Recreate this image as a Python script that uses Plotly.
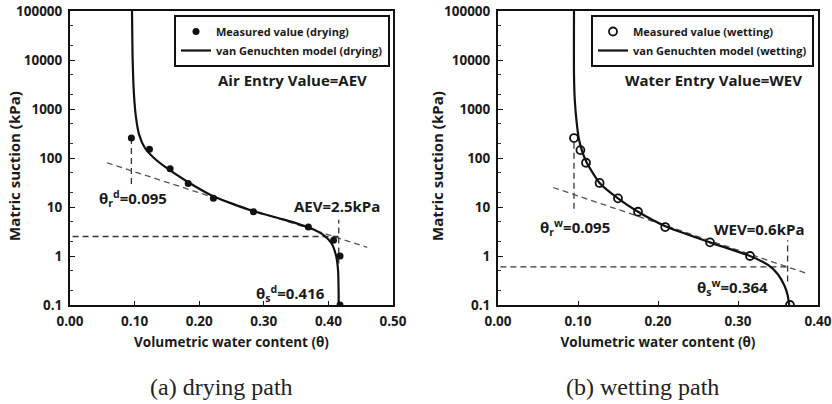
import plotly.graph_objects as go

W, H = 832, 404
FONT = "Open Sans"
INK = "#1a1a1a"

# ---------------- data: drying path ----------------
dry_meas_x = [0.095, 0.123, 0.155, 0.183, 0.222, 0.284, 0.369, 0.408, 0.418, 0.418]
dry_meas_y = [255, 150, 60, 30, 15, 8, 3.9, 2.1, 1.0, 0.1]
dry_model_x = [0.096, 0.097, 0.099, 0.102, 0.107, 0.116, 0.130, 0.150, 0.180, 0.220,
               0.280, 0.330, 0.370, 0.392, 0.405, 0.412, 0.415, 0.416]
dry_model_y = [100000, 10000, 2000, 700, 300, 160, 100, 62, 34, 17,
               8.5, 5.6, 3.8, 2.7, 1.8, 1.0, 0.5, 0.1]
dry_tan_x = [0.057, 0.460]
dry_tan_y = [80, 1.5]
dry_aev = 2.5
dry_theta_r = 0.095
dry_theta_s = 0.416

# ---------------- data: wetting path ----------------
wet_meas_x = [0.095, 0.103, 0.110, 0.127, 0.150, 0.175, 0.209, 0.265, 0.315, 0.365]
wet_meas_y = [255, 145, 80, 31, 15, 8, 3.9, 1.9, 1.0, 0.1]
wet_model_x = [0.095, 0.095, 0.096, 0.098, 0.101, 0.105, 0.111, 0.127, 0.150, 0.175,
               0.210, 0.265, 0.315, 0.338, 0.350, 0.358, 0.362, 0.364]
wet_model_y = [100000, 5000, 1500, 600, 250, 140, 80, 31, 15, 8,
               4.0, 1.9, 1.0, 0.65, 0.42, 0.25, 0.16, 0.1]
wet_tan_x = [0.069, 0.386]
wet_tan_y = [25, 0.44]
wet_wev = 0.6
wet_theta_r = 0.095
wet_theta_s = 0.364

x_ticks_a = [0.0, 0.1, 0.2, 0.3, 0.4, 0.5]
x_ticks_b = [0.0, 0.1, 0.2, 0.3, 0.4]
y_ticks = [0.1, 1, 10, 100, 1000, 10000, 100000]
y_labels = ["0.1", "1", "10", "100", "1000", "10000", "100000"]

fig = go.Figure()

dash_style = dict(color="#333333", width=1.3, dash="6px,4px")
tan_style = dict(color="#555555", width=1.3, dash="6px,4px")

# ---- panel (a) ----
fig.add_trace(go.Scatter(x=[dry_theta_r, dry_theta_r], y=[dry_meas_y[0], 28], mode="lines",
                         line=dash_style, showlegend=False, xaxis="x", yaxis="y"))
fig.add_trace(go.Scatter(x=dry_tan_x, y=dry_tan_y, mode="lines", line=tan_style,
                         showlegend=False, xaxis="x", yaxis="y"))
fig.add_trace(go.Scatter(x=[0.004, dry_theta_s], y=[dry_aev, dry_aev], mode="lines",
                         line=dash_style, showlegend=False, xaxis="x", yaxis="y"))
fig.add_trace(go.Scatter(x=[dry_theta_s, dry_theta_s], y=[0.7, 5.5], mode="lines",
                         line=dash_style, showlegend=False, xaxis="x", yaxis="y"))
fig.add_trace(go.Scatter(x=dry_meas_x, y=dry_meas_y, mode="markers",
                         marker=dict(color="#111111", size=7, symbol="circle"),
                         name="Measured value (drying)", legend="legend",
                         xaxis="x", yaxis="y"))
fig.add_trace(go.Scatter(x=dry_model_x, y=dry_model_y, mode="lines",
                         line=dict(color="#111111", width=2.2, shape="spline", smoothing=0.6),
                         name="van Genuchten model (drying)", legend="legend",
                         xaxis="x", yaxis="y"))

# ---- panel (b) ----
fig.add_trace(go.Scatter(x=[wet_theta_r, wet_theta_r], y=[wet_meas_y[0] * 0.8, 7.5], mode="lines",
                         line=dash_style, showlegend=False, xaxis="x2", yaxis="y2"))
fig.add_trace(go.Scatter(x=wet_tan_x, y=wet_tan_y, mode="lines", line=tan_style,
                         showlegend=False, xaxis="x2", yaxis="y2"))
fig.add_trace(go.Scatter(x=[0.003, wet_theta_s], y=[wet_wev, wet_wev], mode="lines",
                         line=dash_style, showlegend=False, xaxis="x2", yaxis="y2"))
fig.add_trace(go.Scatter(x=[wet_theta_s - 0.002, wet_theta_s - 0.002], y=[0.3, 2.1], mode="lines",
                         line=dash_style, showlegend=False, xaxis="x2", yaxis="y2"))
fig.add_trace(go.Scatter(x=wet_meas_x, y=wet_meas_y, mode="markers",
                         marker=dict(color="white", size=8, symbol="circle",
                                     line=dict(color="#111111", width=1.8)),
                         name="Measured value (wetting)", legend="legend2",
                         xaxis="x2", yaxis="y2"))
fig.add_trace(go.Scatter(x=wet_model_x, y=wet_model_y, mode="lines",
                         line=dict(color="#111111", width=2.2, shape="spline", smoothing=0.6),
                         name="van Genuchten model (wetting)", legend="legend2",
                         xaxis="x2", yaxis="y2"))

tick_font = dict(family=FONT, size=13.5, color=INK, weight="bold")
title_font = dict(family=FONT, size=13.5, color=INK, weight="bold")

def xaxis(domain, rng, ticks, anchor):
    return dict(domain=domain, range=rng, tickvals=ticks, automargin=False,
                ticktext=[f"{t:.2f}" for t in ticks], tickfont=tick_font,
                showgrid=False, zeroline=False, showline=True, mirror=True,
                linecolor="#111111", linewidth=2, ticks="inside", ticklen=4,
                tickcolor="#111111", anchor=anchor, ticklabelstandoff=3,
                title=dict(text="Volumetric water content (θ)", font=title_font, standoff=8))

def yaxis(domain, anchor):
    return dict(domain=domain, type="log", range=[-1, 5], tickvals=y_ticks, automargin=False,
                ticktext=y_labels, tickfont=tick_font, showgrid=False, zeroline=False,
                showline=True, mirror=True, linecolor="#111111", linewidth=2,
                ticks="inside", ticklen=5, tickcolor="#111111", anchor=anchor,
                ticklabelstandoff=3,
                minor=dict(ticks="inside", ticklen=3, tickcolor="#333333", showgrid=False))

legend_font = dict(family=FONT, size=11, color=INK, weight="bold")
ydom = [1 - 305 / H, 1 - 11 / H]
fig.update_layout(
    width=W, height=H, margin=dict(l=0, r=0, t=0, b=0, autoexpand=False),
    paper_bgcolor="white", plot_bgcolor="white",
    xaxis=xaxis([70 / W, 393 / W], [0, 0.5], x_ticks_a, "y"),
    yaxis=yaxis(ydom, "x"),
    xaxis2=xaxis([498 / W, 818 / W], [0, 0.4], x_ticks_b, "y2"),
    yaxis2=yaxis(ydom, "x2"),
    legend=dict(x=390 / W, xanchor="right", y=1 - 15 / H, yanchor="top",
                bordercolor="#111111", borderwidth=2, bgcolor="white",
                font=legend_font, tracegroupgap=0, itemwidth=30),
    legend2=dict(x=814 / W, xanchor="right", y=1 - 15 / H, yanchor="top",
                 bordercolor="#111111", borderwidth=2, bgcolor="white",
                 font=legend_font, tracegroupgap=0, itemwidth=30),
    showlegend=True,
)

def py(px):
    return 1 - px / H

ann_font = dict(family=FONT, size=15, color=INK, weight="bold")
def ann(text, x, y, font=ann_font, angle=0):
    fig.add_annotation(text=text, xref="paper", yref="paper", x=x / W, y=py(y), showarrow=False,
                       font=font, xanchor="center", yanchor="middle", textangle=angle)

ytitle_font = dict(family=FONT, size=15, color=INK, weight="bold")
ann("Matric suction (kPa)", 14, 166, ytitle_font, -90)
ann("Matric suction (kPa)", 437, 166, ytitle_font, -90)

ann("Air Entry Value=AEV", 292, 80)
ann(f"AEV={dry_aev}kPa", 337, 206)
ann(f"θ<sub>r</sub><sup>d</sup>={dry_theta_r}", 133, 198)
ann(f"θ<sub>s</sub><sup>d</sup>={dry_theta_s}", 290, 293)
ann("Water Entry Value=WEV", 713, 80)
ann(f"WEV={wet_wev}kPa", 759, 229)
ann(f"θ<sub>r</sub><sup>w</sup>={wet_theta_r}", 575, 227)
ann(f"θ<sub>s</sub><sup>w</sup>={wet_theta_s}", 732, 287)

cap_font = dict(family="Liberation Serif", size=24, color="#222222")
ann("(a) drying path", 221, 387, cap_font)
ann("(b) wetting path", 642, 387, cap_font)

fig.write_html("out.html")
